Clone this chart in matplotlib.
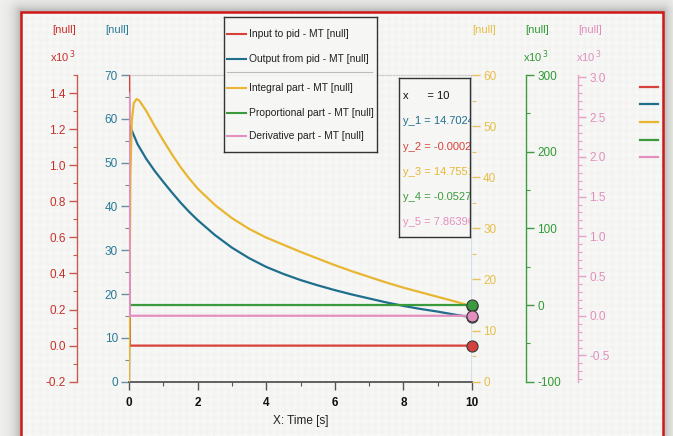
import numpy as np
import matplotlib
matplotlib.use("Agg")
import matplotlib.pyplot as plt
from matplotlib.lines import Line2D
from matplotlib.ticker import MultipleLocator, FixedLocator, FormatStrFormatter

plt.rcParams['font.family'] = ['Liberation Sans Narrow', 'Liberation Sans', 'DejaVu Sans']
plt.rcParams['axes.unicode_minus'] = False

W, H = 673, 436

# ---------------- data ----------------
series_names = [
    "Input to pid - MT [null]",
    "Output from pid - MT [null]",
    "Integral part - MT [null]",
    "Proportional part - MT [null]",
    "Derivative part - MT [null]",
]
series_colors = ["#d8403a", "#1f6e8e", "#e8b631", "#3a9a3c", "#e48fc0"]

# Input to pid (raw units, axis shown x10^3)
input_t = [0.0, 0.0, 0.02, 10.0]
input_v = [0.0, 1800.0, -0.000291, -0.000291]

# Output from pid
out_t = [0.0, 0.03, 0.25, 0.5, 0.75, 1.0, 1.25, 1.5, 1.75, 2.0, 2.5, 3.0, 3.5,
         4.0, 4.5, 5.0, 5.5, 6.0, 6.5, 7.0, 7.5, 8.0, 8.5, 9.0, 9.5, 10.0]
out_v = [0.0, 58.3, 54.2, 50.9, 48.1, 45.6, 43.2, 40.9, 38.8, 36.9, 33.5, 30.6,
         28.2, 26.2, 24.6, 23.2, 22.0, 20.9, 19.9, 19.0, 18.1, 17.3, 16.6, 16.0,
         15.3, 14.7024]

# Integral part
int_t = [0.0, 0.04, 0.08, 0.14, 0.22, 0.3, 0.5, 0.75, 1.0, 1.25, 1.5, 1.75, 2.0,
         2.5, 3.0, 3.5, 4.0, 4.5, 5.0, 5.5, 6.0, 6.5, 7.0, 7.5, 8.0, 8.5, 9.0,
         9.5, 10.0]
int_v = [0.0, 40.0, 51.0, 54.5, 55.3, 55.0, 53.0, 50.0, 47.2, 44.5, 42.0, 39.8,
         37.8, 34.6, 32.0, 29.9, 28.2, 26.8, 25.4, 24.1, 22.8, 21.6, 20.5, 19.4,
         18.4, 17.5, 16.6, 15.7, 14.7551]

# Proportional part (raw units, axis shown x10^3)
prop_t = [0.0, 10.0]
prop_v = [-0.052741, -0.052741]

# Derivative part (raw units, axis shown x10^3)
der_t = [0.0, 0.0, 0.02, 10.0]
der_v = [0.0, 2800.0, 7.86396e-05, 7.86396e-05]

x_cursor = 10
x_ticks = [0, 2, 4, 6, 8, 10]

# ---------------- figure & backdrop ----------------
fig = plt.figure(figsize=(W / 100, H / 100), dpi=100)

frame_l, frame_t, frame_r = 20.5, 12.5, 662.5
yy, xx = np.mgrid[0:H, 0:W].astype(float)
dx = np.maximum(np.maximum(frame_l - xx, 0), xx - frame_r)
dy = np.maximum(frame_t - yy, 0)
dist = np.hypot(dx, dy)
inside = dist == 0
weave = (0.012 * np.sin(xx * 1.85) * np.sin(yy * 1.85)
         + 0.006 * np.sin(xx * 0.9 + 0.5) + 0.006 * np.sin(yy * 0.9))
level = np.where(inside, 0.962 + weave, 0.95 - 0.26 * np.exp(-dist / 7.0))
bg = np.dstack([level, level, level * 0.995]).clip(0, 1)

bg_ax = fig.add_axes([0, 0, 1, 1], zorder=-10)
bg_ax.imshow(bg, extent=(0, W, H, 0), aspect='auto', interpolation='bilinear')
bg_ax.set_xlim(0, W)
bg_ax.set_ylim(H, 0)
bg_ax.axis('off')
bg_ax.plot([frame_l, frame_l, frame_r, frame_r], [H + 5, frame_t, frame_t, H + 5],
           color="#d01818", lw=1.8, solid_joinstyle='miter')

# ---------------- plot axes ----------------
px_l, px_r, px_t, px_b = 129, 472, 75, 381.7
ax = fig.add_axes([px_l / W, 1 - px_b / H, (px_r - px_l) / W, (px_b - px_t) / H])
ax.patch.set_visible(False)
ax.set_xlim(0, 10)
ax.set_ylim(0, 70)


def style_y(a, color, lblcolor, major, minor, side):
    a.yaxis.set_major_locator(MultipleLocator(major))
    a.yaxis.set_minor_locator(MultipleLocator(minor))
    a.yaxis.set_ticks_position(side)
    a.tick_params(axis='y', which='major', direction='out', length=6, width=1,
                  color=color, labelcolor=lblcolor, labelsize=8.5, pad=2)
    a.tick_params(axis='y', which='minor', direction='out', length=3, width=0.8,
                  color=color)


# blue axis on host
style_y(ax, "#6d8fa0", "#2a7a98", 10, 5, 'left')
ax.spines['left'].set_color("#9fb8c4")
ax.spines['right'].set_visible(False)
ax.spines['top'].set_color("#c9c9c9")
ax.spines['top'].set_linestyle((0, (1, 1.5)))
ax.spines['top'].set_linewidth(0.8)
ax.spines['bottom'].set_color("#555555")
ax.spines['bottom'].set_linewidth(1.3)
ax.xaxis.set_major_locator(FixedLocator(x_ticks))
ax.xaxis.set_minor_locator(MultipleLocator(1))
ax.tick_params(axis='x', which='major', direction='out', length=6, width=1,
               color="#555555", labelsize=8.5, labelcolor="#111111", pad=5)
ax.tick_params(axis='x', which='minor', direction='out', length=3, width=0.8,
               color="#555555")
for lab in ax.get_xticklabels():
    lab.set_fontweight('bold')
ax.set_xlabel("X: Time [s]", fontsize=8.5, color="#222222", labelpad=4)


def side_axis(pos, side, lim, color, lblcolor, major, minor):
    a = ax.twinx()
    a.set_ylim(*lim)
    a.patch.set_visible(False)
    for s in a.spines.values():
        s.set_visible(False)
    sp = a.spines[side]
    sp.set_visible(True)
    sp.set_position(('axes', pos))
    sp.set_color(color)
    sp.set_linewidth(1.0)
    style_y(a, color, lblcolor, major, minor, side)
    a.yaxis.set_label_position(side)
    return a


ax_red = side_axis(-0.1516, 'left', (-0.2, 1.5), "#c85a50", "#c8302a", 0.2, 0.1)
ax_yel = side_axis(1.0, 'right', (0, 60), "#e8c060", "#e8bf4a", 10, 5)
ax_yel.spines['right'].set_visible(False)
ax_grn = side_axis(1.1574, 'right', (-100, 300), "#3d9c3d", "#2f9a33", 100, 50)
ax_pnk = side_axis(1.309, 'right', (-0.83, 3.03), "#e3a2c6", "#e08fbc", 0.5, 0.1)

ax_red.yaxis.set_major_formatter(FormatStrFormatter('%.1f'))
ax_pnk.yaxis.set_major_formatter(FormatStrFormatter('%.1f'))

k = 1000.0
lw = 1.6
ax.plot(out_t, out_v, color=series_colors[1], lw=lw)
ax_red.plot(input_t, np.array(input_v) / k, color=series_colors[0], lw=lw)
ax_yel.plot(int_t, int_v, color=series_colors[2], lw=lw)
ax_grn.plot(prop_t, np.array(prop_v) / k, color=series_colors[3], lw=lw)
ax_pnk.plot(der_t, np.array(der_v) / k, color=series_colors[4], lw=lw)

# data cursor
ax_pnk.axvline(x_cursor, color="#3f86c0", lw=1.0, zorder=1)
mk = dict(marker='o', ms=8, mec="#3a3a3a", mew=0.8, clip_on=False, zorder=5)
ax.plot([x_cursor], [out_v[-1]], mfc=series_colors[1], **mk)
ax_red.plot([x_cursor], [input_v[-1] / k], mfc=series_colors[0], **mk)
ax_yel.plot([x_cursor], [int_v[-1]], mfc=series_colors[2], **mk)
ax_grn.plot([x_cursor], [prop_v[-1] / k], mfc=series_colors[3], **mk)
ax_pnk.plot([x_cursor], [der_v[-1] / k], mfc=series_colors[4], **mk)

# axis unit captions
cap_kw = dict(fontsize=8, ha='center', va='center')
axis_caps = [(64, "#c8302a", True), (117, "#2a7a98", False), (484, "#e8bf4a", False),
             (537, "#2f9a33", True), (590, "#e08fbc", True)]
for xc, col, scaled in axis_caps:
    fig.text(xc / W, 1 - 30 / H, "[null]", color=col, **cap_kw)
    if scaled:
        fig.text((xc - 1) / W, 1 - 57 / H, r"x10$^{\,3}$", color=col, **cap_kw)

# ---------------- data tip box ----------------
tip = fig.add_axes([399.3 / W, 1 - 236.7 / H, 70.7 / W, 158.4 / H], zorder=20)
tip.set_xlim(0, 1)
tip.set_ylim(0, 1)
tip.set_xticks([])
tip.set_yticks([])
tip.patch.set_facecolor("#f7f7f5")
tip.patch.set_alpha(0.85)
for s in tip.spines.values():
    s.set_color("#333333")
    s.set_linewidth(1.0)
tip_rows = [
    (f"x      = {x_cursor}", "#111111"),
    (f"y_1 = {out_v[-1]}", series_colors[1]),
    (f"y_2 = {input_v[-1]}", series_colors[0]),
    (f"y_3 = {int_v[-1]}", series_colors[2]),
    (f"y_4 = {prop_v[-1]}", series_colors[3]),
    (f"y_5 = {der_v[-1]}", series_colors[4]),
]
tip_y = [0.888, 0.730, 0.566, 0.408, 0.250, 0.092]
for (txt, col), ty in zip(tip_rows, tip_y):
    tip.text(0.05, ty, txt, color=col, fontsize=8, va='center', ha='left', clip_on=True)

# ---------------- legend box ----------------
leg = fig.add_axes([224.3 / W, 1 - 151.7 / H, 152.4 / W, 135 / H], zorder=20)
leg.set_xlim(0, 1)
leg.set_ylim(0, 1)
leg.set_xticks([])
leg.set_yticks([])
leg.patch.set_facecolor("#f7f7f5")
leg.patch.set_alpha(0.85)
for s in leg.spines.values():
    s.set_color("#333333")
    s.set_linewidth(1.0)
leg_y = [0.874, 0.684, 0.469, 0.290, 0.115]
for name, col, ly in zip(series_names, series_colors, leg_y):
    leg.plot([0.02, 0.145], [ly, ly], color=col, lw=1.5)
    leg.text(0.163, ly, name, color="#222222", fontsize=7.4, va='center', ha='left')
leg.plot([0.02, 0.97], [0.593, 0.593], color="#bbbbbb", lw=0.8)

# small legend keys at the right edge
key_y = [86.7, 104.3, 122.3, 140.0, 157.3]
for col, ky in zip(series_colors, key_y):
    fig.add_artist(Line2D([640 / W, 658 / W], [1 - ky / H, 1 - ky / H], color=col, lw=1.6))

fig.savefig("out.png", dpi=100)
